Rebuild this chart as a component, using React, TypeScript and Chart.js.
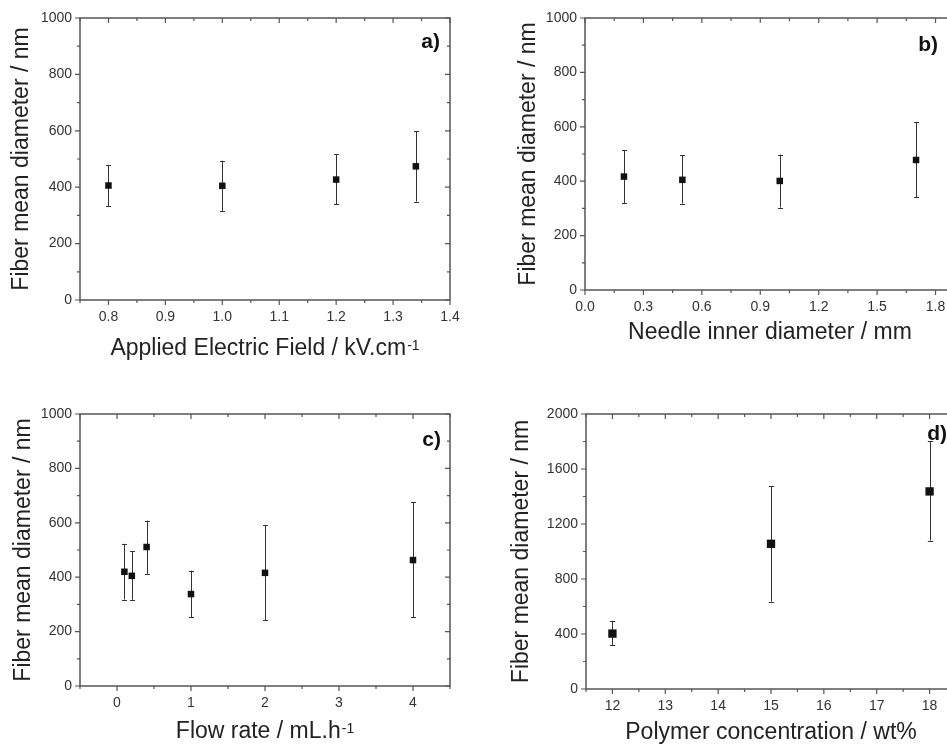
import React, { useEffect, useRef } from 'react';
import { Chart, registerables } from 'chart.js';
Chart.register(...registerables);

const FONT = "'Liberation Sans', Arial, Helvetica, sans-serif";

// ---- Panel a) Applied electric field ----
const aX = [0.8, 1.0, 1.2, 1.34];
const aY = [406, 405, 427, 474];
const aLow = [333, 316, 339, 349];
const aHigh = [478, 494, 516, 599];
const aXTicks = [0.8, 0.9, 1.0, 1.1, 1.2, 1.3, 1.4];
const aXLabels = ['0.8', '0.9', '1.0', '1.1', '1.2', '1.3', '1.4'];

// ---- Panel b) Needle inner diameter ----
const bX = [0.2, 0.5, 1.0, 1.7];
const bY = [417, 405, 401, 478];
const bLow = [320, 318, 303, 342];
const bHigh = [513, 496, 498, 616];
const bXTicks = [0.0, 0.3, 0.6, 0.9, 1.2, 1.5, 1.8];
const bXLabels = ['0.0', '0.3', '0.6', '0.9', '1.2', '1.5', '1.8'];

// ---- Panel c) Flow rate ----
const cX = [0.1, 0.2, 0.4, 1, 2, 4];
const cY = [420, 405, 511, 338, 416, 463];
const cLow = [318, 317, 412, 252, 242, 252];
const cHigh = [523, 495, 608, 424, 591, 676];
const cXTicks = [0, 1, 2, 3, 4];
const cXLabels = ['0', '1', '2', '3', '4'];

// ---- Panel d) Polymer concentration ----
const dX = [12, 15, 18];
const dY = [403, 1056, 1437];
const dLow = [318, 636, 1080];
const dHigh = [495, 1473, 1801];
const dXTicks = [12, 13, 14, 15, 16, 17, 18];
const dXLabels = ['12', '13', '14', '15', '16', '17', '18'];

// shared y ticks
const yTicks1000 = [0, 200, 400, 600, 800, 1000];
const yLabels1000 = ['0', '200', '400', '600', '800', '1000'];
const yTicks2000 = [0, 400, 800, 1200, 1600, 2000];
const yLabels2000 = ['0', '400', '800', '1200', '1600', '2000'];

const Y_TITLE = 'Fiber mean diameter / nm';

const AXIS_COLOR = '#555';
const TEXT_COLOR = '#222';

const errorBarPlugin = {
  id: 'errorBars',
  beforeDatasetsDraw(chart: any, _a: any, opts: any) {
    const ctx = chart.ctx;
    const xs = chart.scales.x;
    const ys = chart.scales.y;
    const cap = opts.cap || 2.5;
    ctx.save();
    ctx.strokeStyle = '#333';
    ctx.lineWidth = 1;
    chart.data.datasets.forEach((ds: any) => {
      ds.data.forEach((p: any, i: number) => {
        const px = Math.round(xs.getPixelForValue(p.x)) + 0.5;
        const y1 = ys.getPixelForValue(ds.errLow[i]);
        const y2 = ys.getPixelForValue(ds.errHigh[i]);
        ctx.beginPath();
        ctx.moveTo(px, y1);
        ctx.lineTo(px, y2);
        ctx.moveTo(px - cap, Math.round(y1) + 0.5);
        ctx.lineTo(px + cap, Math.round(y1) + 0.5);
        ctx.moveTo(px - cap, Math.round(y2) + 0.5);
        ctx.lineTo(px + cap, Math.round(y2) + 0.5);
        ctx.stroke();
      });
    });
    ctx.restore();
  },
};

function minorsOf(major: number[], min: number, max: number) {
  const out: number[] = [];
  const step = major[1] - major[0];
  for (let i = 0; i < major.length - 1; i++) out.push((major[i] + major[i + 1]) / 2);
  if (major[0] - step / 2 >= min - 1e-9) out.push(major[0] - step / 2);
  const last = major[major.length - 1] + step / 2;
  if (last <= max + 1e-9) out.push(last);
  return out;
}

const framePlugin = {
  id: 'frameTicks',
  afterDraw(chart: any) {
    const ctx = chart.ctx;
    const { left, right, top, bottom } = chart.chartArea;
    const xs = chart.scales.x;
    const ys = chart.scales.y;
    const xMaj = xs.ticks.map((t: any) => t.value);
    const yMaj = ys.ticks.map((t: any) => t.value);
    const xMin = minorsOf(xMaj, xs.min, xs.max);
    const yMin = minorsOf(yMaj, ys.min, ys.max);
    const MAJ = 5;
    const MIN = 3;
    ctx.save();
    ctx.strokeStyle = AXIS_COLOR;
    ctx.lineWidth = 1.5;
    ctx.strokeRect(left, top, right - left, bottom - top);
    ctx.lineWidth = 1.2;
    ctx.beginPath();
    const drawX = (v: number, len: number) => {
      const px = xs.getPixelForValue(v);
      ctx.moveTo(px, bottom);
      ctx.lineTo(px, bottom + len);
      ctx.moveTo(px, top);
      ctx.lineTo(px, top + len);
    };
    const drawY = (v: number, len: number) => {
      const py = ys.getPixelForValue(v);
      ctx.moveTo(left, py);
      ctx.lineTo(left - len, py);
      ctx.moveTo(right, py);
      ctx.lineTo(right - len, py);
    };
    xMaj.forEach((v: number) => drawX(v, MAJ));
    xMin.forEach((v: number) => drawX(v, MIN));
    yMaj.forEach((v: number) => drawY(v, MAJ));
    yMin.forEach((v: number) => drawY(v, MIN));
    ctx.stroke();
    ctx.restore();
  },
};

const labelPlugin = {
  id: 'panelLabel',
  afterDraw(chart: any, _a: any, opts: any) {
    if (!opts || !opts.text) return;
    const ctx = chart.ctx;
    const { right, top } = chart.chartArea;
    ctx.save();
    ctx.font = `bold 21px ${FONT}`;
    ctx.fillStyle = '#111';
    ctx.textAlign = 'right';
    ctx.textBaseline = 'alphabetic';
    ctx.fillText(opts.text, right - opts.dx, top + opts.dy);
    ctx.restore();
  },
};

const supTitlePlugin = {
  id: 'supTitle',
  afterDraw(chart: any, _a: any, opts: any) {
    if (!opts || !opts.text) return;
    const ctx = chart.ctx;
    const { left, right } = chart.chartArea;
    ctx.save();
    ctx.fillStyle = TEXT_COLOR;
    ctx.textBaseline = 'alphabetic';
    ctx.textAlign = 'left';
    ctx.font = `23px ${FONT}`;
    const w1 = ctx.measureText(opts.text).width;
    ctx.font = `14px ${FONT}`;
    const w2 = ctx.measureText(opts.sup).width;
    const x0 = (left + right) / 2 - (w1 + w2 + 1) / 2;
    ctx.font = `23px ${FONT}`;
    ctx.fillText(opts.text, x0, opts.baseline);
    ctx.font = `14px ${FONT}`;
    ctx.fillText(opts.sup, x0 + w1 + 1, opts.baseline - 5);
    ctx.restore();
  },
};

type PanelCfg = {
  left: number; top: number; w: number; h: number;
  padTop: number; padRight: number; yW: number; xH: number;
  xs: number[]; ys: number[]; lo: number[]; hi: number[];
  xMin: number; xMax: number; yMax: number;
  xTicks: number[]; xLabels: string[]; yTicks: number[]; yLabels: string[];
  xTitle: string; xSup?: string; supBaseline?: number; xTitlePad: number; yTitlePad: number;
  label: string; labelDx: number; labelDy: number;
  radius: number; cap: number;
};

function makeConfig(c: PanelCfg): any {
  const tickFont = { family: FONT, size: 14 };
  const titleFont = { family: FONT, size: 23 };
  return {
    type: 'scatter',
    data: {
      datasets: [
        {
          data: c.xs.map((x, i) => ({ x, y: c.ys[i] })),
          errLow: c.lo,
          errHigh: c.hi,
          pointStyle: 'rect',
          pointRadius: c.radius,
          pointHoverRadius: c.radius,
          backgroundColor: '#111',
          borderColor: '#111',
          borderWidth: 0,
        },
      ],
    },
    options: {
      animation: false,
      responsive: false,
      devicePixelRatio: 1,
      events: [],
      layout: { padding: { top: c.padTop, right: c.padRight, left: 0, bottom: 0 } },
      plugins: {
        legend: { display: false },
        tooltip: { enabled: false },
        errorBars: { cap: c.cap },
        panelLabel: { text: c.label, dx: c.labelDx, dy: c.labelDy },
        supTitle: c.xSup ? { text: c.xTitle, sup: c.xSup, baseline: c.supBaseline } : {},
      },
      scales: {
        x: {
          type: 'linear',
          min: c.xMin,
          max: c.xMax,
          afterBuildTicks: (s: any) => {
            s.ticks = c.xTicks.map((v) => ({ value: v }));
          },
          afterFit: (s: any) => {
            s.height = c.xH;
          },
          grid: { display: false, drawTicks: false },
          border: { display: false },
          ticks: {
            padding: 9,
            font: tickFont,
            color: '#333',
            autoSkip: false,
            maxRotation: 0,
            callback: (_v: any, i: number) => c.xLabels[i],
          },
          title: {
            display: !c.xSup,
            text: c.xTitle,
            font: titleFont,
            color: TEXT_COLOR,
            padding: { top: 0, bottom: c.xTitlePad },
          },
        },
        y: {
          type: 'linear',
          min: 0,
          max: c.yMax,
          afterBuildTicks: (s: any) => {
            s.ticks = c.yTicks.map((v) => ({ value: v }));
          },
          afterFit: (s: any) => {
            s.width = c.yW;
          },
          grid: { display: false, drawTicks: false },
          border: { display: false },
          ticks: {
            padding: 8,
            font: tickFont,
            color: '#333',
            autoSkip: false,
            callback: (_v: any, i: number) => c.yLabels[i],
          },
          title: {
            display: true,
            text: Y_TITLE,
            font: titleFont,
            color: TEXT_COLOR,
            padding: { top: c.yTitlePad, bottom: 0 },
          },
        },
      },
    },
    plugins: [errorBarPlugin, framePlugin, labelPlugin, supTitlePlugin],
  };
}

const panels: PanelCfg[] = [
  {
    left: 0, top: 0, w: 470, h: 360, padTop: 18, padRight: 20, yW: 80, xH: 60,
    xs: aX, ys: aY, lo: aLow, hi: aHigh, xMin: 0.75, xMax: 1.4, yMax: 1000,
    xTicks: aXTicks, xLabels: aXLabels, yTicks: yTicks1000, yLabels: yLabels1000,
    xTitle: 'Applied Electric Field / kV.cm', xSup: '-1', supBaseline: 355, xTitlePad: 0, yTitlePad: 8,
    label: 'a)', labelDx: 10, labelDy: 30, radius: 4.6, cap: 2.5,
  },
  {
    left: 505, top: 0, w: 470, h: 350, padTop: 18, padRight: 20, yW: 80, xH: 60,
    xs: bX, ys: bY, lo: bLow, hi: bHigh, xMin: 0, xMax: 1.9, yMax: 1000,
    xTicks: bXTicks, xLabels: bXLabels, yTicks: yTicks1000, yLabels: yLabels1000,
    xTitle: 'Needle inner diameter / mm', xTitlePad: 4, yTitlePad: 10,
    label: 'b)', labelDx: 17, labelDy: 33, radius: 4.6, cap: 2.5,
  },
  {
    left: 0, top: 396, w: 470, h: 350, padTop: 18, padRight: 20, yW: 80, xH: 60,
    xs: cX, ys: cY, lo: cLow, hi: cHigh, xMin: -0.5, xMax: 4.5, yMax: 1000,
    xTicks: cXTicks, xLabels: cXLabels, yTicks: yTicks1000, yLabels: yLabels1000,
    xTitle: 'Flow rate / mL.h', xSup: '-1', supBaseline: 342, xTitlePad: 0, yTitlePad: 10,
    label: 'c)', labelDx: 9, labelDy: 32, radius: 4.6, cap: 2.5,
  },
  {
    left: 506, top: 396, w: 470, h: 350, padTop: 18, padRight: 20, yW: 80, xH: 57,
    xs: dX, ys: dY, lo: dLow, hi: dHigh, xMin: 11.5, xMax: 18.5, yMax: 2000,
    xTicks: dXTicks, xLabels: dXLabels, yTicks: yTicks2000, yLabels: yLabels2000,
    xTitle: 'Polymer concentration / wt%', xTitlePad: 0, yTitlePad: 2,
    label: 'd)', labelDx: 9, labelDy: 26, radius: 5.9, cap: 2.7,
  },
];

function Panel({ cfg }: { cfg: PanelCfg }) {
  const ref = useRef<HTMLCanvasElement | null>(null);
  useEffect(() => {
    if (!ref.current) return;
    const chart = new Chart(ref.current, makeConfig(cfg));
    return () => chart.destroy();
  }, [cfg]);
  return (
    <canvas
      ref={ref}
      width={cfg.w}
      height={cfg.h}
      style={{ position: 'absolute', left: cfg.left, top: cfg.top, width: cfg.w, height: cfg.h }}
    />
  );
}

export default function App() {
  return (
    <div
      style={{
        position: 'fixed',
        left: 0,
        top: 0,
        width: 947,
        height: 744,
        overflow: 'hidden',
        background: '#fff',
      }}
    >
      {panels.map((p, i) => (
        <Panel key={i} cfg={p} />
      ))}
    </div>
  );
}
